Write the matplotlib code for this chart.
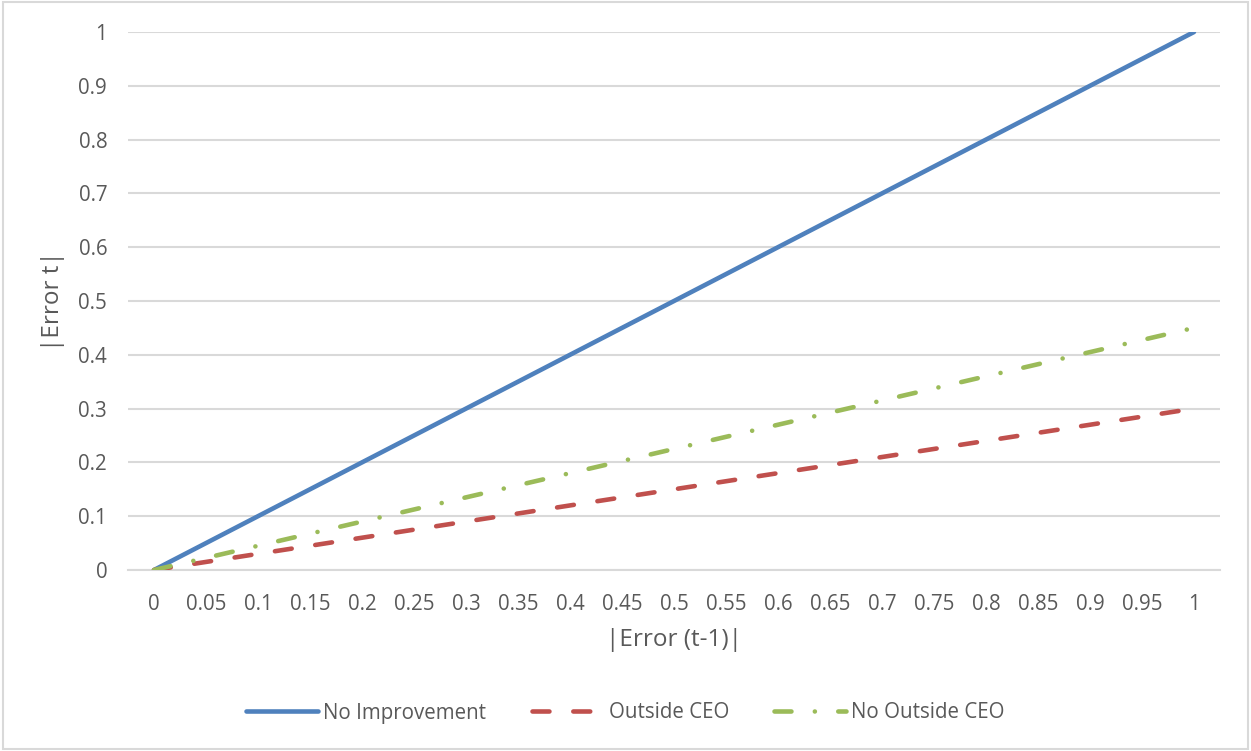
import matplotlib.pyplot as plt
from matplotlib.patches import Rectangle

plt.rcParams['font.family'] = ['Open Sans', 'DejaVu Sans']

categories = ['0', '0.05', '0.1', '0.15', '0.2', '0.25', '0.3', '0.35', '0.4', '0.45', '0.5',
              '0.55', '0.6', '0.65', '0.7', '0.75', '0.8', '0.85', '0.9', '0.95', '1']
no_improvement = [0, 0.05, 0.1, 0.15, 0.2, 0.25, 0.3, 0.35, 0.4, 0.45, 0.5,
                  0.55, 0.6, 0.65, 0.7, 0.75, 0.8, 0.85, 0.9, 0.95, 1.0]
outside_ceo = [0, 0.015, 0.03, 0.045, 0.06, 0.075, 0.09, 0.105, 0.12, 0.135, 0.15,
               0.165, 0.18, 0.195, 0.21, 0.225, 0.24, 0.255, 0.27, 0.285, 0.3]
no_outside_ceo = [0, 0.0225, 0.045, 0.0675, 0.09, 0.1125, 0.135, 0.1575, 0.18, 0.2025, 0.225,
                  0.2475, 0.27, 0.2925, 0.315, 0.3375, 0.36, 0.3825, 0.405, 0.4275, 0.45]
y_ticks = [0, 0.1, 0.2, 0.3, 0.4, 0.5, 0.6, 0.7, 0.8, 0.9, 1]
y_labels = ['0', '0.1', '0.2', '0.3', '0.4', '0.5', '0.6', '0.7', '0.8', '0.9', '1']

text_col = '#595959'
grid_col = '#D9D9D9'

fig = plt.figure(figsize=(12.51, 7.51), dpi=100)
ax = fig.add_axes([128/1251, 1 - 570/751, 1092/1251, 538/751])

xs = list(range(len(categories)))
lw = 3.3
ax.plot(xs, no_improvement, color='#4F81BD', lw=lw, solid_capstyle='round',
        label='No Improvement', zorder=3)
ax.plot(xs, outside_ceo, color='#C0504D', lw=lw, dashes=(3.7, 5.2),
        dash_capstyle='round', label='Outside CEO', zorder=3)
ax.plot(xs, no_outside_ceo, color='#9BBB59', lw=lw, dashes=(3.7, 5.1, 0.01, 5.1),
        dash_capstyle='round', label='No Outside CEO', zorder=3)

ax.set_xlim(-0.5, len(categories) - 0.5)
ax.set_ylim(0, 1)
ax.set_xticks(xs)
ax.set_xticklabels(categories)
ax.set_yticks(y_ticks)
ax.set_yticklabels(y_labels)
ax.tick_params(length=0, labelsize=14.8, colors=text_col)
ax.tick_params(axis='x', pad=17)
ax.tick_params(axis='y', pad=15)
ax.grid(axis='y', color=grid_col, lw=1.5)
ax.set_axisbelow(True)
for s in ['top', 'right', 'left']:
    ax.spines[s].set_visible(False)
ax.spines['bottom'].set_color(grid_col)
ax.spines['bottom'].set_linewidth(1.5)

# axis titles
fig.text(674/1251, 1 - 640/751, '|Error (t-1)|', fontsize=17.5, color=text_col,
         ha='center', va='center')
fig.text(53/1251, 1 - 301/751, '|Error t|', fontsize=17.5, color=text_col,
         ha='center', va='center', rotation=90)

leg = fig.legend(loc='center', bbox_to_anchor=(0.5, 1 - 713/751), ncol=3, frameon=False,
                 fontsize=14.8, handlelength=3.5, handletextpad=0.25, columnspacing=2.2)
for t in leg.get_texts():
    t.set_color(text_col)

fig.patches.append(Rectangle((0.002, 0.003), 0.996, 0.994, transform=fig.transFigure,
                             fill=False, edgecolor=grid_col, lw=1.5))

fig.savefig('out.png', dpi=100, facecolor='white')
